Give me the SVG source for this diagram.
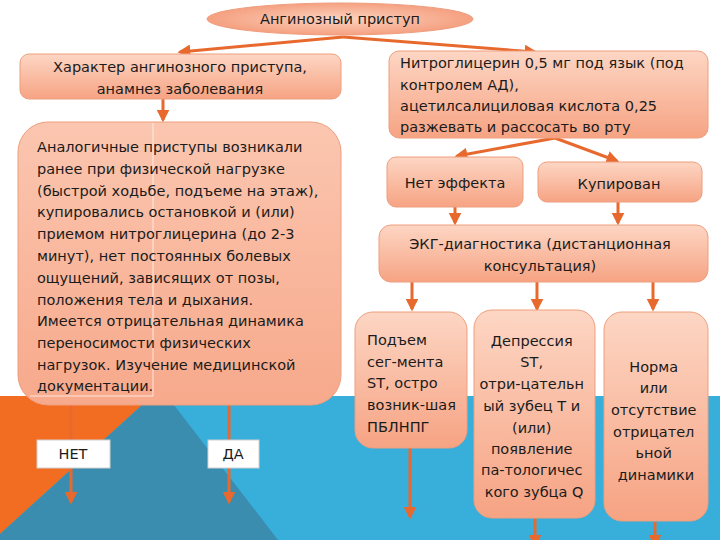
<svg xmlns="http://www.w3.org/2000/svg" width="720" height="540" viewBox="0 0 720 540">
<defs>
<linearGradient id="g" x1="0" y1="0" x2="0" y2="1">
<stop offset="0" stop-color="#FDD6C4"/>
<stop offset="1" stop-color="#F6A383"/>
</linearGradient>
<linearGradient id="gb" x1="0" y1="0" x2="0" y2="1">
<stop offset="0" stop-color="#FBC6B0"/>
<stop offset="1" stop-color="#F7A98B"/>
</linearGradient>
<radialGradient id="ge" cx="0.5" cy="0.5" r="0.5">
<stop offset="0" stop-color="#FCD3C0"/>
<stop offset="1" stop-color="#F5A080"/>
</radialGradient>
<marker id="ah" viewBox="0 0 10 10" refX="8" refY="5" markerWidth="13" markerHeight="13" markerUnits="userSpaceOnUse" orient="auto">
<path d="M0,0 L10,5 L0,10 z" fill="#E8692E"/>
</marker>
</defs>
<style>
.box{fill:url(#g);stroke:#EE9E7E;stroke-width:1}
.t{font-family:"DejaVu Sans","Liberation Sans",sans-serif;font-size:14.5px;fill:#1b1b1b}
.c{text-anchor:middle}
.lbl{fill:#ffffff;stroke:#d0d0d0;stroke-width:1}
.conn line,.conn path{stroke:#E8692E;stroke-width:3;fill:none;marker-end:url(#ah)}
</style>
<rect width="720" height="540" fill="#ffffff"/>
<g id="background">
<rect x="0" y="396" width="720" height="144" fill="#38AEDB"/>
<polygon points="0,396 152,396 0,534" fill="#F26C22"/>
<polygon points="152,396 167,396 278,540 0,540 0,534" fill="#3A8DAE"/>
</g>
<g class="conn" id="connectors">
<line x1="343" y1="37" x2="180" y2="52"/>
<line x1="343" y1="37" x2="535" y2="52"/>
<line x1="163" y1="99" x2="163" y2="120"/>
<line x1="71" y1="405" x2="71" y2="502"/>
<line x1="229" y1="405" x2="229" y2="502"/>
<line x1="555" y1="138" x2="457" y2="156"/>
<line x1="555" y1="138" x2="617" y2="161"/>
<line x1="455" y1="207" x2="455" y2="223"/>
<line x1="618" y1="202" x2="618" y2="223"/>
<line x1="412" y1="282" x2="412" y2="309"/>
<line x1="537" y1="282" x2="537" y2="309"/>
<line x1="653" y1="282" x2="653" y2="309"/>
<line x1="410" y1="448" x2="410" y2="517"/>
<line x1="535" y1="518" x2="535" y2="545"/>
<line x1="655" y1="522" x2="655" y2="545"/>
</g>
<g id="n-start">
<ellipse cx="340" cy="19" rx="133" ry="16" fill="url(#ge)" stroke="#EE9E7E"/>
<text x="340" y="24" class="t c">Ангинозный приступ</text>
</g>
<g id="n-character">
<rect x="20" y="54" width="321" height="45" rx="9" class="box"/>
<text x="180" y="72" class="t c">Характер ангинозного приступа,</text>
<text x="180" y="94" class="t c">анамнез заболевания</text>
</g>
<g id="n-anamnesis">
<rect x="18" y="122" width="323" height="283" rx="30" fill="url(#gb)" stroke="#EE9E7E"/>
<path d="M153,123 V396 H30" fill="none" stroke="#ffffff" stroke-opacity="0.7" stroke-width="1"/>
<text class="t" x="37">
<tspan x="37" y="152">Аналогичные приступы возникали</tspan>
<tspan x="37" y="174">ранее при физической нагрузке</tspan>
<tspan x="37" y="196">(быстрой ходьбе, подъеме на этаж),</tspan>
<tspan x="37" y="217">купировались остановкой и (или)</tspan>
<tspan x="37" y="239">приемом нитроглицерина (до 2-3</tspan>
<tspan x="37" y="261">минут), нет постоянных болевых</tspan>
<tspan x="37" y="283">ощущений, зависящих от позы,</tspan>
<tspan x="37" y="305">положения тела и дыхания.</tspan>
<tspan x="37" y="326">Имеется отрицательная динамика</tspan>
<tspan x="37" y="348">переносимости физических</tspan>
<tspan x="37" y="370">нагрузок. Изучение медицинской</tspan>
<tspan x="37" y="391">документации.</tspan>
</text>
</g>
<g id="n-no">
<rect x="37" y="440" width="73" height="28" class="lbl"/>
<text x="73" y="459" class="t c">НЕТ</text>
</g>
<g id="n-yes">
<rect x="208" y="440" width="51" height="28" class="lbl"/>
<text x="233" y="459" class="t c">ДА</text>
</g>
<g id="n-nitro">
<rect x="389" y="51" width="319" height="87" rx="10" class="box"/>
<text class="t">
<tspan x="400" y="68">Нитроглицерин 0,5 мг под язык (под</tspan>
<tspan x="400" y="90">контролем АД),</tspan>
<tspan x="400" y="111">ацетилсалициловая кислота 0,25</tspan>
<tspan x="400" y="132">разжевать и рассосать во рту</tspan>
</text>
</g>
<g id="n-noeffect">
<rect x="387" y="157" width="136" height="50" rx="9" class="box"/>
<text x="455" y="188" class="t c">Нет эффекта</text>
</g>
<g id="n-relieved">
<rect x="538" y="162" width="164" height="40" rx="9" class="box"/>
<text x="619" y="189" class="t c">Купирован</text>
</g>
<g id="n-ecg">
<rect x="379" y="225" width="329" height="57" rx="12" class="box"/>
<text x="540" y="249" class="t c">ЭКГ-диагностика (дистанционная</text>
<text x="540" y="271" class="t c">консультация)</text>
</g>
<g id="n-st-elev">
<rect x="355" y="312" width="112" height="136" rx="18" class="box"/>
<text class="t">
<tspan x="367" y="345">Подъем</tspan>
<tspan x="367" y="367">сег-мента</tspan>
<tspan x="367" y="388">ST, остро</tspan>
<tspan x="367" y="410">возник-шая</tspan>
<tspan x="367" y="432">ПБЛНПГ</tspan>
</text>
</g>
<g id="n-st-dep">
<rect x="474" y="310" width="121" height="208" rx="18" class="box"/>
<text class="t c">
<tspan x="534" y="346">Депрессия</tspan>
<tspan x="534" y="367">ST,</tspan>
<tspan x="534" y="389">отри-цательн</tspan>
<tspan x="534" y="411">ый зубец Т и</tspan>
<tspan x="534" y="433">(или)</tspan>
<tspan x="534" y="454">появление</tspan>
<tspan x="534" y="475">па-тологичес</tspan>
<tspan x="534" y="497">кого зубца Q</tspan>
</text>
</g>
<g id="n-norm">
<rect x="604" y="312" width="104" height="209" rx="18" class="box"/>
<text class="t c">
<tspan x="656" y="372">Норма</tspan>
<tspan x="656" y="393">или</tspan>
<tspan x="656" y="415">отсутствие</tspan>
<tspan x="656" y="437">отрицател</tspan>
<tspan x="656" y="458">ьной</tspan>
<tspan x="656" y="480">динамики</tspan>
</text>
</g>
</svg>
